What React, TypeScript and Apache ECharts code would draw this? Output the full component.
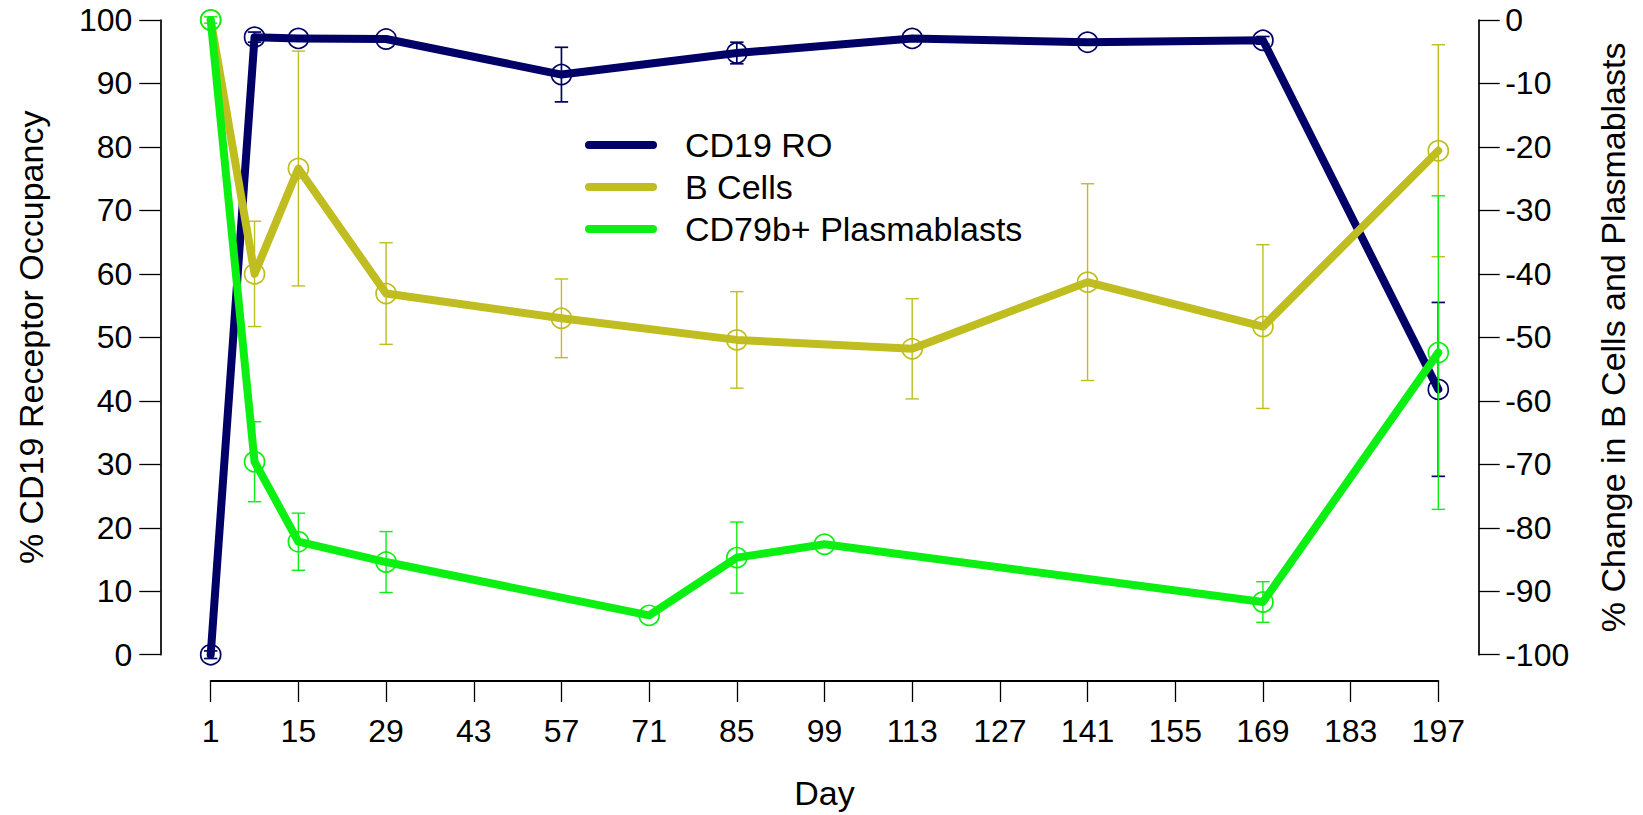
import React, { useEffect, useRef } from "react";
import * as echarts from "echarts";

const FONT = "'Liberation Sans', Arial, Helvetica, sans-serif";
const NAVY = "#000066";
const OLIVE = "#BFBD1F";
const GREEN = "#0CEF12";

// x-axis tick labels (Day)
const xTicks = [1, 15, 29, 43, 57, 71, 85, 99, 113, 127, 141, 155, 169, 183, 197];

// CD19 receptor occupancy (left axis, %)
const roDays = [1, 8, 15, 29, 57, 85, 113, 141, 169, 197];
const roValues = [0, 97.3, 97.1, 97.0, 91.4, 94.8, 97.1, 96.5, 96.8, 41.8];
const roErrors = [0.6, 0.8, 0, 0, 4.3, 1.7, 0, 0, 0.6, 13.7];

// B cells (right axis, % change)
const bDays = [1, 8, 15, 29, 57, 85, 113, 141, 169, 197];
const bValues = [0, -40.0, -23.4, -43.1, -47.0, -50.4, -51.8, -41.3, -48.3, -20.6];
const bErrors = [0, 8.3, 18.5, 8.0, 6.2, 7.6, 7.9, 15.5, 12.9, 16.7];

// CD79b+ plasmablasts (right axis, % change)
const pDays = [1, 8, 15, 29, 71, 85, 99, 169, 197];
const pValues = [0, -69.6, -82.2, -85.4, -93.8, -84.7, -82.6, -91.7, -52.4];
const pErrors = [0.5, 6.3, 4.5, 4.8, 0, 5.6, 0, 3.2, 24.7];

const CAPSULE = "path://M4,0H68A4,4,0,0,1,68,8H4A4,4,0,0,1,4,0Z";

function pairs(days: number[], vals: number[]) {
  return days.map((d, i) => [d, vals[i]]);
}
function errData(days: number[], vals: number[], errs: number[]) {
  return days.map((d, i) => [d, vals[i], vals[i] - errs[i], vals[i] + errs[i]]);
}

function errorRender(color: string, width: number) {
  return (params: any, api: any) => {
    const x = api.value(0);
    const lo = api.value(2);
    const hi = api.value(3);
    if (!(hi - lo > 0)) return null;
    const top = api.coord([x, hi]);
    const bot = api.coord([x, lo]);
    const hw = 6.7;
    const style = { stroke: color, lineWidth: width, fill: null };
    return {
      type: "group",
      children: [
        { type: "line", shape: { x1: top[0], y1: top[1], x2: bot[0], y2: bot[1] }, style },
        { type: "line", shape: { x1: top[0] - hw, y1: top[1], x2: top[0] + hw, y2: top[1] }, style },
        { type: "line", shape: { x1: bot[0] - hw, y1: bot[1], x2: bot[0] + hw, y2: bot[1] }, style },
      ],
    };
  };
}

function lineSeries(name: string, color: string, data: number[][], yAxisIndex: number, z: number) {
  return {
    name,
    type: "line",
    yAxisIndex,
    data,
    clip: false,
    z,
    symbol: "circle",
    symbolSize: 20,
    itemStyle: { color: "rgba(0,0,0,0)", borderColor: color, borderWidth: 1.7 },
    lineStyle: { color, width: 8, cap: "round", join: "round" },
    emphasis: { disabled: true },
  };
}

function errSeries(color: string, width: number, data: number[][], yAxisIndex: number, z: number) {
  return {
    type: "custom",
    yAxisIndex,
    data,
    clip: false,
    z,
    renderItem: errorRender(color, width),
    encode: { x: 0, y: [1, 2, 3] },
    silent: true,
  };
}

export default function App() {
  const ref = useRef<HTMLDivElement>(null);
  useEffect(() => {
    if (!ref.current) return;
    const chart = echarts.init(ref.current, null, { renderer: "svg" });
    const axisText = { fontSize: 32, color: "#000", fontFamily: FONT };
    const nameText = { fontSize: 34, color: "#000", fontFamily: FONT };
    chart.setOption({
      animation: false,
      backgroundColor: "#ffffff",
      textStyle: { fontFamily: FONT },
      grid: { left: 210.7, right: 204.7, top: 20, bottom: 157.3, containLabel: false },
      legend: {
        orient: "vertical",
        left: 585,
        top: 124,
        padding: 0,
        itemGap: 0,
        itemWidth: 72,
        itemHeight: 8,
        selectedMode: false,
        icon: CAPSULE,
        itemStyle: { borderWidth: 0 },
        textStyle: { fontSize: 34, color: "#000", lineHeight: 42, padding: [0, 0, 0, 23], fontFamily: FONT },
        data: [
          { name: "CD19 RO", itemStyle: { color: NAVY } },
          { name: "B Cells", itemStyle: { color: OLIVE } },
          { name: "CD79b+ Plasmablasts", itemStyle: { color: GREEN } },
        ],
      },
      xAxis: {
        type: "value",
        min: 1,
        max: 197,
        offset: 26.3,
        name: "Day",
        nameLocation: "middle",
        nameGap: 95,
        nameTextStyle: nameText,
        axisLine: { onZero: false, lineStyle: { color: "#000", width: 2 } },
        axisTick: { customValues: xTicks, length: 21, lineStyle: { color: "#000", width: 1.3 } },
        axisLabel: { customValues: xTicks, margin: 34, ...axisText },
        splitLine: { show: false },
      },
      yAxis: [
        {
          type: "value",
          position: "left",
          min: 0,
          max: 100,
          interval: 10,
          offset: 50.4,
          name: "% CD19 Receptor Occupancy",
          nameLocation: "middle",
          nameRotate: 90,
          nameGap: 112,
          nameTextStyle: nameText,
          axisLine: { show: true, onZero: false, lineStyle: { color: "#000", width: 1.7 } },
          axisTick: { show: true, length: 21, lineStyle: { color: "#000", width: 1.3 } },
          axisLabel: { margin: 28, ...axisText },
          splitLine: { show: false },
        },
        {
          type: "value",
          position: "right",
          min: -100,
          max: 0,
          interval: 10,
          offset: 40.4,
          name: "% Change in B Cells and Plasmablasts",
          nameLocation: "middle",
          nameRotate: 90,
          nameGap: 117,
          nameTextStyle: nameText,
          axisLine: { show: true, onZero: false, lineStyle: { color: "#000", width: 1.7 } },
          axisTick: { show: true, length: 21, lineStyle: { color: "#000", width: 1.3 } },
          axisLabel: { margin: 26.5, ...axisText },
          splitLine: { show: false },
        },
      ],
      series: [
        errSeries(NAVY, 1.7, errData(roDays, roValues, roErrors), 0, 2),
        lineSeries("CD19 RO", NAVY, pairs(roDays, roValues), 0, 3),
        errSeries(OLIVE, 1.4, errData(bDays, bValues, bErrors), 1, 4),
        lineSeries("B Cells", OLIVE, pairs(bDays, bValues), 1, 5),
        errSeries(GREEN, 1.4, errData(pDays, pValues, pErrors), 1, 6),
        lineSeries("CD79b+ Plasmablasts", GREEN, pairs(pDays, pValues), 1, 7),
      ],
    });
    return () => chart.dispose();
  }, []);
  return (
    <div
      ref={ref}
      style={{ position: "absolute", left: 0, top: 0, width: 1643, height: 815, background: "#fff" }}
    />
  );
}
